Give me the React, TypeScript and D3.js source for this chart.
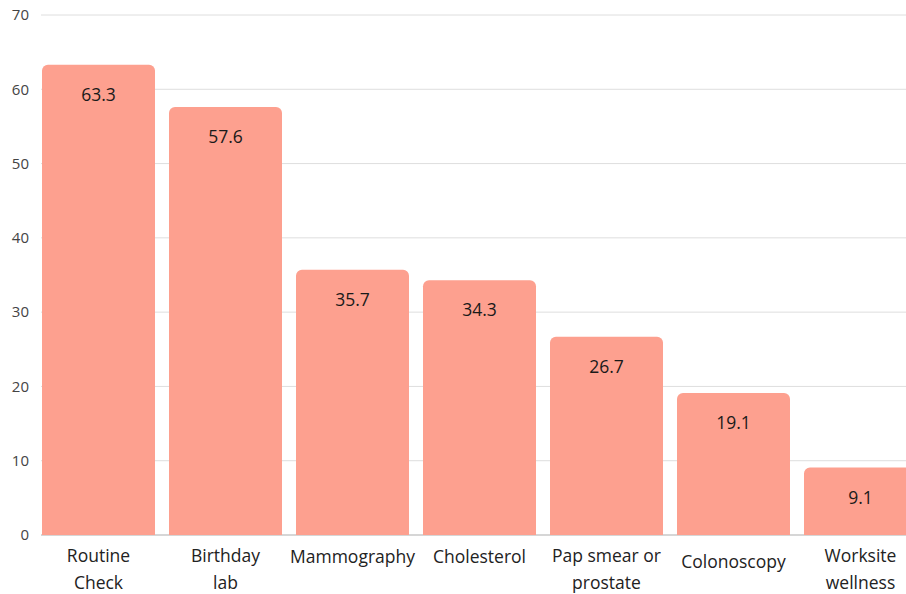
import * as d3 from 'd3';

const categories = ['Routine\nCheck', 'Birthday\nlab', 'Mammography', 'Cholesterol', 'Pap smear or\nprostate', 'Colonoscopy', 'Worksite\nwellness'];
const values = [63.3, 57.6, 35.7, 34.3, 26.7, 19.1, 9.1];
const yTicks = [0, 10, 20, 30, 40, 50, 60, 70];

const W = 906;
const H = 594;
const FONT = '"Open Sans", sans-serif';

export default function App() {
  const left = 42;
  const step = 127;
  const gap = 14;
  const x = d3.scaleBand<string>()
    .domain(categories)
    .range([left, left + step * categories.length - gap])
    .paddingInner(gap / step)
    .paddingOuter(0);
  const y = d3.scaleLinear().domain([0, 70]).range([535, 15]);
  const r = 6;

  const barPath = (x0: number, w: number, y0: number, y1: number) => {
    const p = d3.path();
    p.moveTo(x0, y1);
    p.lineTo(x0, y0 + r);
    p.arcTo(x0, y0, x0 + r, y0, r);
    p.lineTo(x0 + w - r, y0);
    p.arcTo(x0 + w, y0, x0 + w, y0 + r, r);
    p.lineTo(x0 + w, y1);
    p.closePath();
    return p.toString();
  };

  return (
    <svg width={W} height={H} style={{ position: 'absolute', left: 0, top: 0, background: '#fff' }} fontFamily={FONT}>
      {yTicks.map(t => (
        <g key={t}>
          <line x1={left - 1} x2={W} y1={y(t)} y2={y(t)} stroke={t === 0 ? '#c8c8c8' : '#dedede'} strokeWidth={t === 0 ? 1.5 : 1} />
          <text x={29} y={y(t)} dy="0.35em" textAnchor="end" fontSize={15} fill="#444">{t}</text>
        </g>
      ))}
      {categories.map((c, i) => {
        const x0 = x(c)!;
        const w = x.bandwidth();
        const cx = x0 + w / 2;
        const lines = c.split('\n');
        const single = lines.length === 1;
        return (
          <g key={c}>
            <path d={barPath(x0, w, y(values[i]), y(0))} fill="#FDA08F" />
            <text x={cx} y={y(values[i]) + 30} dy="0.35em" textAnchor="middle" fontSize={17.5} fill="#1a1a1a">{values[i]}</text>
            {lines.map((l, j) => (
              <text key={j} x={cx} y={single ? (c === 'Colonoscopy' ? 562 : 557) : 556 + j * 27} dy="0.35em" textAnchor="middle" fontSize={17.5} fill="#222">{l}</text>
            ))}
          </g>
        );
      })}
    </svg>
  );
}
